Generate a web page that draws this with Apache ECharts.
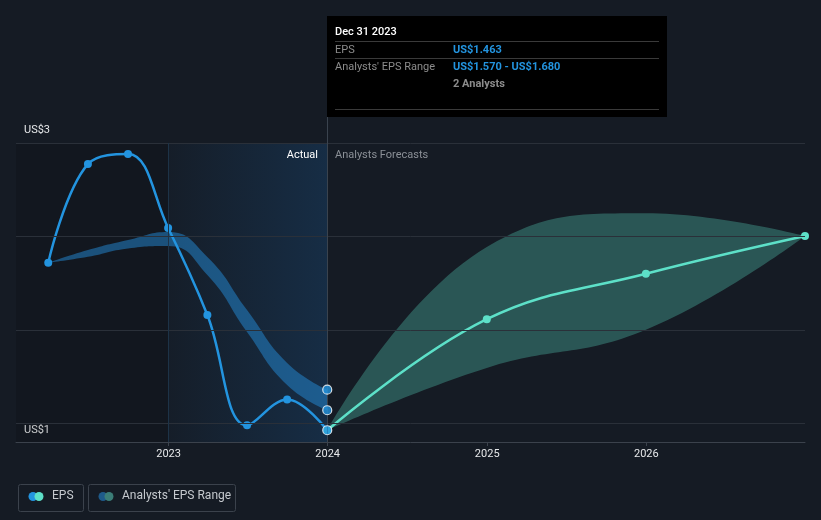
<!DOCTYPE html>
<html><head><meta charset="utf-8">
<script src="https://cdn.jsdelivr.net/npm/echarts@6/dist/echarts.min.js"></script>
<style>html,body{margin:0;padding:0;background:#151b24}#c{width:821px;height:520px}</style>
</head><body><div id="c"></div>
<script>
// ---- data ----
const epsDates = ['2022-03-31','2022-06-30','2022-09-30','2022-12-31','2023-03-31','2023-06-30','2023-09-30','2023-12-31'];
const epsValues = [2.359, 2.887, 2.941, 2.545, 2.080, 1.489, 1.628, 1.463];
const pastRangeLow  = [2.359, 2.391, 2.436, 2.449, 2.294, 1.989, 1.705, 1.570];
const pastRangeHigh = [2.359, 2.427, 2.481, 2.524, 2.390, 2.106, 1.823, 1.680];
const fcDates = ['2023-12-31','2024-12-31','2025-12-31','2026-12-31'];
const fcValues = [1.463, 2.057, 2.300, 2.502];
const fcLow  = [1.463, 1.796, 2.000, 2.502];
const fcHigh = [1.463, 2.443, 2.624, 2.502];
const yGridValues = [1.5, 2.0, 2.5, 3.0];
const yLabelValues = [1.5, 3.0];
const yLabelTexts = ['US$1', 'US$3'];
const hoverDate = '2023-12-31';
const hoverValues = [1.680, 1.570, 1.463];
const actualStart = '2022-01-16';
const actualSplit = '2022-12-31';
const axisEnd = '2026-12-31';
const yMin = 1.4, yTop = 3.0, yMax = 3.139;

const FONT = 'Roboto, "Noto Sans", sans-serif';
const BLUE = '#2394df', TEAL = '#5de0c8';
const chart = echarts.init(document.getElementById('c'), null, {renderer: 'canvas'});
const ts = s => { const p = s.split('-').map(Number); return new Date(p[0], p[1] - 1, p[2]).getTime(); };
const zip = (d, v) => d.map((x, i) => [ts(x), v[i]]);
const diff = (hi, lo) => hi.map((h, i) => +(h - lo[i]).toFixed(4));
const YEAR = 365.25 * 86400000;

const option = {
  backgroundColor: '#151b24',
  animation: false,
  grid: {left: 16, right: 16, top: 117, bottom: 78},
  xAxis: {
    type: 'time', min: ts(actualStart), max: ts(axisEnd), minInterval: YEAR, maxInterval: YEAR,
    axisLine: {lineStyle: {color: '#3b424c', width: 1}},
    axisTick: {show: true, length: 4, lineStyle: {color: '#3b424c'}},
    axisLabel: {color: '#e6e8ea', fontSize: 11, fontFamily: FONT, margin: 7, showMinLabel: false, showMaxLabel: false,
      formatter: v => String(new Date(v).getFullYear())},
    splitLine: {show: false}
  },
  yAxis: {
    type: 'value', min: yMin, max: yMax,
    axisLine: {show: false}, axisTick: {show: false}, splitLine: {show: false},
    axisLabel: {
      customValues: yLabelValues, inside: true, margin: 8, color: '#e6e8ea', fontSize: 11, fontFamily: FONT,
      formatter: v => {
        const i = yLabelValues.indexOf(v);
        const t = i >= 0 ? yLabelTexts[i] : '';
        return v === yTop ? '{t|' + t + '}' : '{b|' + t + '}';
      },
      rich: {t: {padding: [0, 0, 26, 0], color: '#e6e8ea', fontSize: 11, fontFamily: FONT},
             b: {padding: [14, 0, 0, 0], color: '#e6e8ea', fontSize: 11, fontFamily: FONT}}
    }
  },
  series: [
    { // helper: background shading + grid lines
      type: 'line', data: [], z: 1, silent: true,
      markArea: {silent: true, data: [
        [{xAxis: ts(actualStart), yAxis: yTop, itemStyle: {color: 'rgba(0,0,0,0.13)'}}, {xAxis: ts(actualSplit), yAxis: yMin}],
        [{xAxis: ts(actualSplit), yAxis: yTop, itemStyle: {color: new echarts.graphic.LinearGradient(0, 0, 1, 0, [
          {offset: 0, color: 'rgba(24,70,115,0.06)'}, {offset: 1, color: 'rgba(24,70,115,0.42)'}])}},
         {xAxis: ts(hoverDate), yAxis: yMin}]
      ]},
      markLine: {silent: true, symbol: 'none', label: {show: false},
        data: yGridValues.map(v => ({yAxis: v, lineStyle: {color: '#2a3039', width: 1, type: 'solid'}})).concat([
          [{coord: [ts(actualSplit), yTop], lineStyle: {color: '#1d3347', width: 1, type: 'solid'}}, {coord: [ts(actualSplit), yMin]}],
          [{coord: [ts(hoverDate), yMax], lineStyle: {color: '#3a434e', width: 1, type: 'solid'}}, {coord: [ts(hoverDate), yMin]}]
        ])}
    },
    {type: 'line', stack: 'past', data: zip(epsDates, pastRangeLow), smooth: 0.5, symbol: 'none',
      lineStyle: {opacity: 0}, z: 2, silent: true},
    {type: 'line', stack: 'past', data: zip(epsDates, diff(pastRangeHigh, pastRangeLow)), smooth: 0.5, symbol: 'none',
      lineStyle: {opacity: 0}, areaStyle: {color: 'rgba(35,140,215,0.5)', opacity: 1}, z: 2, silent: true},
    {type: 'line', stack: 'fc', data: zip(fcDates, fcLow), smooth: 0.45, symbol: 'none',
      lineStyle: {opacity: 0}, z: 2, silent: true},
    {type: 'line', stack: 'fc', data: zip(fcDates, diff(fcHigh, fcLow)), smooth: 0.45, symbol: 'none',
      lineStyle: {opacity: 0}, areaStyle: {color: 'rgba(93,224,200,0.3)', opacity: 1}, z: 2, silent: true},
    {name: 'EPS', type: 'line', data: zip(epsDates, epsValues), smooth: 0.4, symbol: 'circle', symbolSize: 8,
      itemStyle: {color: BLUE}, lineStyle: {color: BLUE, width: 2.5}, z: 4},
    {name: 'EPS forecast', type: 'line', data: zip(fcDates, fcValues), smooth: 0.4, symbol: 'circle', symbolSize: 8,
      itemStyle: {color: TEAL}, lineStyle: {color: TEAL, width: 2.5}, z: 4},
    {type: 'scatter', data: hoverValues.map(v => [ts(hoverDate), v]), symbolSize: 9,
      itemStyle: {color: BLUE, borderColor: '#ffffff', borderWidth: 1.2}, z: 6}
  ],
  graphic: [
    {type: 'text', right: 821 - 318, top: 150, z: 10, style: {text: 'Actual', fill: '#ffffff', font: '11px ' + FONT}},
    {type: 'text', left: 335, top: 150, z: 10, style: {text: 'Analysts Forecasts', fill: '#8b9097', font: '11px ' + FONT}},
    // tooltip
    {type: 'group', left: 327, top: 16, z: 20, children: [
      {type: 'rect', shape: {x: 0, y: 0, width: 340, height: 101}, style: {fill: '#000000'}},
      {type: 'text', x: 8, y: 11, style: {text: 'Dec 31 2023', fill: '#ffffff', font: '500 11px ' + FONT}},
      {type: 'line', shape: {x1: 8, y1: 25.5, x2: 332, y2: 25.5}, style: {stroke: '#3a3a3a', lineWidth: 1}},
      {type: 'text', x: 8, y: 29, style: {text: 'EPS', fill: '#8c8c8c', font: '11px ' + FONT}},
      {type: 'text', x: 126, y: 29, style: {text: 'US$1.463', fill: BLUE, font: 'bold 11px ' + FONT}},
      {type: 'line', shape: {x1: 8, y1: 42.5, x2: 332, y2: 42.5}, style: {stroke: '#3a3a3a', lineWidth: 1}},
      {type: 'text', x: 8, y: 46, style: {text: "Analysts' EPS Range", fill: '#8c8c8c', font: '11px ' + FONT}},
      {type: 'text', x: 126, y: 46, style: {text: 'US$1.570 - US$1.680', fill: BLUE, font: 'bold 11px ' + FONT}},
      {type: 'text', x: 126, y: 63, style: {text: '2 Analysts', fill: '#8c8c8c', font: 'bold 11px ' + FONT}},
      {type: 'line', shape: {x1: 8, y1: 93.5, x2: 332, y2: 93.5}, style: {stroke: '#3a3a3a', lineWidth: 1}}
    ]},
    // legend
    {type: 'group', left: 16, top: 482, z: 20, children: [
      {type: 'rect', shape: {x: 0.5, y: 0.5, width: 65, height: 27, r: 2}, style: {fill: 'none', stroke: '#3b424c', lineWidth: 1}},
      {type: 'circle', shape: {cx: 15, cy: 12.5, r: 4.5}, style: {fill: BLUE}},
      {type: 'circle', shape: {cx: 21, cy: 12.5, r: 4.5}, style: {fill: TEAL}},
      {type: 'text', x: 34, y: 6, style: {text: 'EPS', fill: '#c5c9ce', font: '12px ' + FONT}},
      {type: 'rect', shape: {x: 70.5, y: 0.5, width: 147, height: 27, r: 2}, style: {fill: 'none', stroke: '#3b424c', lineWidth: 1}},
      {type: 'circle', shape: {cx: 85, cy: 12.5, r: 4.5}, style: {fill: '#1e5a8a'}},
      {type: 'circle', shape: {cx: 91, cy: 12.5, r: 4.5}, style: {fill: '#3b7d77'}},
      {type: 'text', x: 104, y: 6, style: {text: "Analysts' EPS Range", fill: '#c5c9ce', font: '12px ' + FONT}}
    ]}
  ]
};
chart.setOption(option);
</script></body></html>
